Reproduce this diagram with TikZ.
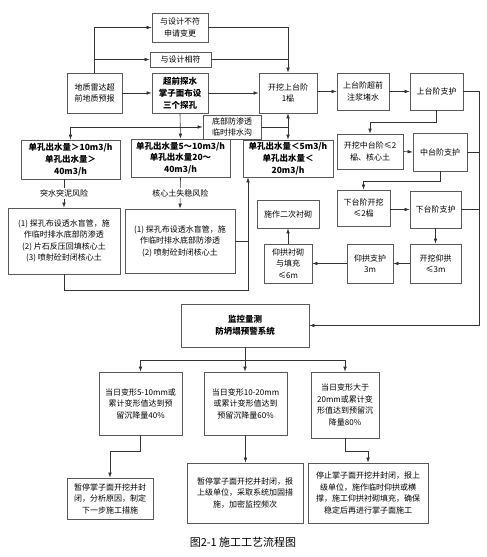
\documentclass[tikz,border=0pt]{standalone}
\usepackage{fontspec}
\setmainfont{Noto Sans CJK SC}
\usetikzlibrary{arrows.meta, positioning, calc}

\begin{document}
\begin{tikzpicture}[
    x=1pt, y=-1pt,
    box/.style={draw=black!65, line width=0.8pt, align=center, inner sep=1pt,
        font=\fontsize{8}{11.5}\selectfont},
    bx/.style 2 args={box, minimum width=#1pt, minimum height=#2pt},
    bbx/.style 2 args={bx={#1}{#2}, font=\fontsize{8.5}{11.8}\selectfont\bfseries},
    risk/.style={fill=white, inner sep=1.5pt, font=\fontsize{8}{10}\selectfont},
    arr/.style={-{Latex[length=5pt, width=3.6pt]}, line width=0.6pt, draw=black!80},
    ln/.style={line width=0.6pt, draw=black!80}
]
\useasboundingbox (0,0) rectangle (487,557);
% Geological forecast and design check
\node[bx={55}{40}]  (leida)   at (94.5,93)   {地质雷达超\\前地质预报};
\node[bx={56}{29}]  (budiff)  at (180,27.5)  {与设计不符\\申请变更};
\node[bx={61}{15}]  (fuhe)    at (180.5,59.5) {与设计相符};
\node[bbx={56}{40}] (tanshui) at (180,93)    {超前探水\\掌子面布设\\三个探孔};
\node[bx={58}{24}]  (paishui) at (232,127)   {底部防渗透\\临时排水沟};
% Water inflow classes and treatments
\node[bbx={99}{39}] (dk1) at (70.5,159.5) {单孔出水量＞10m3/h\\单孔出水量＞\\40m3/h};
\node[bbx={99}{38}] (dk2) at (180.5,158)  {单孔出水量5～10m3/h\\单孔出水量20～\\40m3/h};
\node[bbx={90}{37}] (dk3) at (288,158.5)  {单孔出水量＜5m3/h\\单孔出水量＜\\20m3/h};
\node[bx={112}{66}] (cs1) at (64,241)  {(1) 探孔布设透水盲管，施\\作临时排水底部防渗透\\(2) 片石反压回填核心土\\(3) 喷射砼封闭核心土};
\node[bx={110}{64}] (cs2) at (180,241) {(1) 探孔布设透水盲管，施\\作临时排水底部防渗透\\(2) 喷射砼封闭核心土};
% Bench excavation sequence
\node[bx={58}{40}] (shangkw)  at (288,93)    {开挖上台阶\\1榀};
\node[bx={52}{37}] (zhujiang) at (363,91.5)  {上台阶超前\\注浆堵水};
\node[bx={53}{37}] (shangzh)  at (436.5,91.5) {上台阶支护};
\node[bx={66}{35}] (zhongkw)  at (370,151.5) {开挖中台阶≤2\\榀、核心土};
\node[bx={54}{38}] (zhongzh)  at (440,152)   {中台阶支护};
\node[bx={53}{36}] (xiakw)    at (363.5,208) {下台阶开挖\\≤2榀};
\node[bx={51}{37}] (xiazh)    at (435.5,209.5) {下台阶支护};
\node[bx={62}{28}] (ergong)   at (288,214)   {施作二次衬砌};
\node[bx={51}{39}] (yanggw)   at (435.5,263.5) {开挖仰拱\\≤3m};
\node[bx={46}{39}] (yangzh)   at (370,263.5) {仰拱支护\\3m};
\node[bx={48}{39}] (yangcq)   at (288,263.5) {仰拱衬砌\\与填充\\≤6m};
% Monitoring and warning levels
\node[bbx={128}{43}] (jiankong) at (245,325.5) {监控量测\\防坍塌预警系统};
\node[bx={83}{63}]  (bxA) at (140.5,403.5) {当日变形5-10mm或\\累计变形值达到预\\留沉降量40\%};
\node[bx={83}{63}]  (bxB) at (245.5,403.5) {当日变形10-20mm\\或累计变形值达到\\预留沉降量60\%};
\node[bx={68}{66}]  (bxC) at (345,405)     {当日变形大于\\20mm或累计变\\形值达到预留沉\\降量80\%};
\node[bx={86}{41}]  (cdD) at (110,498.5) {暂停掌子面开挖并封\\闭，分析原因，制定\\下一步施工措施};
\node[bx={116}{60}] (cdE) at (245,493)   {暂停掌子面开挖并封闭，报\\上级单位，采取系统加固措\\施，加密监控频次};
\node[bx={120}{60}] (cdF) at (368,493)   {停止掌子面开挖并封闭，报上\\级单位，施作临时仰拱或横\\撑，施工仰拱衬砌填充，确保\\稳定后再进行掌子面施工};
\node[font=\fontsize{11}{13}\selectfont] (cap) at (243,542) {图2-1 施工工艺流程图};

% Connectors: forecast to excavation
\draw[arr] (leida.north) |- (budiff.west);
\draw[arr] (leida.north |- fuhe.west) -- (fuhe.west);
\draw[arr] (leida.east) -- (tanshui.west);
\draw[arr] (tanshui.east) -- (shangkw.west);
\draw[arr] (budiff.east) -| (shangkw.north);
\draw[ln] (fuhe.east) -- (fuhe.east -| shangkw.north);
% Water probing branches
\coordinate (jn) at (180,127);
\draw[arr] (tanshui.south) -- (dk2.north);
\draw[arr] (jn) -| (dk1.north);
\draw[arr] (jn) -- (paishui.west);
\coordinate (jm) at (paishui.east -| shangkw.south);
\draw[ln] (paishui.east) -- (jm);
\draw[arr] (jm) -- (shangkw.south);
\draw[arr] (jm) -- (dk3.north);
\draw[arr] (cs1.north |- dk1.south) -- node[risk] {突水突泥风险} (cs1.north);
\draw[arr] (dk2.south) -- node[risk] {核心土失稳风险} (cs2.north);
\coordinate (lb) at (248,290);
\draw[arr] (cs1.south) |- (lb) -- (lb |- dk3.south);
\draw[ln] (cs2.east) -- (cs2.east -| lb);
% Bench sequence
\draw[arr] (shangkw.east |- zhujiang.west) -- (zhujiang.west);
\draw[arr] (zhujiang.east) -- (shangzh.west);
\draw[arr] (shangzh.south) -- ++(0,12) -| (zhongkw.north);
\draw[arr] (zhongkw.east) -- (zhongzh.west);
\draw[arr] (zhongzh.south) -- ++(0,10) -| (xiakw.north);
\draw[arr] (xiakw.east |- xiazh.west) -- (xiazh.west);
\draw[arr] (xiazh.south) -- (yanggw.north);
\draw[arr] (yanggw.west) -- (yangzh.east);
\draw[arr] (yangzh.west) -- (yangcq.east);
\draw[arr] (yangcq.north) -- (ergong.south);
% Supports feed monitoring
\coordinate (rbus) at (479,91.5);
\draw[arr] (shangzh.east) -- (rbus) |- (jiankong.east);
\draw[ln] (zhongzh.east) -- (zhongzh.east -| rbus);
\draw[ln] (xiazh.east) -- (xiazh.east -| rbus);
% Warning levels
\coordinate (mb) at (245,360);
\draw[arr] (jiankong.south) -- (jiankong.south |- bxB.north);
\draw[arr] (mb) -| (bxA.north);
\draw[arr] (mb) -| (bxC.north);
\draw[arr] (bxA.south) -- ++(0,16) -| (cdD.north);
\draw[arr] (bxB.south) -- (bxB.south |- cdE.north);
\draw[arr] (bxC.south) -- ++(0,13) -| (cdF.north);
\end{tikzpicture}
\end{document}
